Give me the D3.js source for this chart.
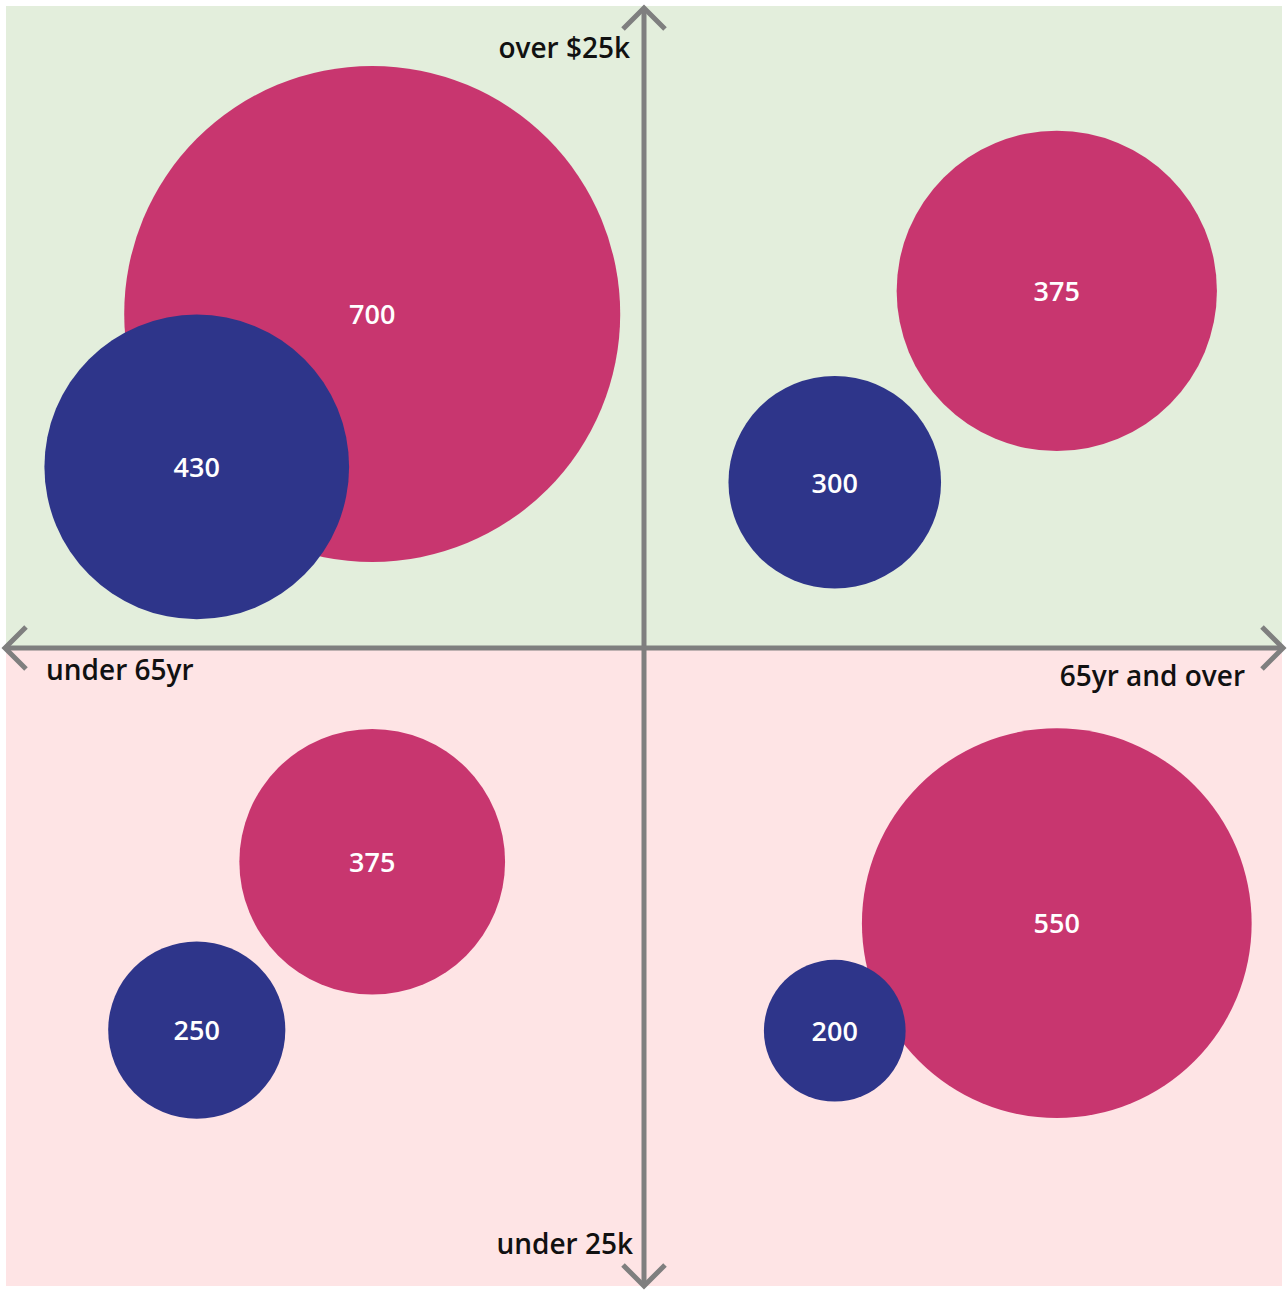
<!DOCTYPE html>
<html>
<head>
<meta charset="utf-8">
<script src="https://cdn.jsdelivr.net/npm/d3@7"></script>
<style>
  html, body { margin: 0; padding: 0; background: #ffffff; }
  svg { display: block; }
  text { font-family: "Open Sans", "Lato", sans-serif; }
</style>
</head>
<body>
<svg id="chart" width="1287" height="1290"></svg>
<script>
// ---- Data ----
const bubbleLabels = ["700", "430", "375", "300", "375", "250", "550", "200"];
const bubbleValues = [700, 430, 375, 300, 375, 250, 550, 200];
// drawn bubble size (the upper-right 375 bubble is drawn larger than its label)
const bubbleSizes  = [700, 430, 452, 300, 375, 250, 550, 200];
const bubbleGroups = ["pink", "blue", "pink", "blue", "pink", "blue", "pink", "blue"];
// positions in axis units (-100..100): x = age, y = income
const bubbleX = [-42.6, -70.1, 64.7, 29.9, -42.6, -70.1, 64.7, 29.9];
const bubbleY = [52.2, 28.3, 55.8, 25.9, -33.4, -59.7, -43.0, -59.8];
const axisLabels = ["over $25k", "under 65yr", "65yr and over", "under 25k"];
const quadrantNames = ["upper", "lower"];

(function () {
// ---- Scales ----
const svg = d3.select("#chart");
const x = d3.scaleLinear().domain([-100, 100]).range([6, 1282]);
const y = d3.scaleLinear().domain([-100, 100]).range([1288, 8]);
const r = d3.scaleLinear().domain([0, 700]).range([0, 248]);
const color = d3.scaleOrdinal().domain(["pink", "blue"]).range(["#C8366F", "#2E358A"]);
const bg = d3.scaleOrdinal().domain(quadrantNames).range(["#E3EEDC", "#FEE4E5"]);

// ---- Background halves ----
svg.append("rect").attr("x", x(-100)).attr("y", y(100) - 2)
  .attr("width", x(100) - x(-100)).attr("height", y(0) - y(100) + 2)
  .attr("fill", bg("upper"));
svg.append("rect").attr("x", x(-100)).attr("y", y(0))
  .attr("width", x(100) - x(-100)).attr("height", y(-100) - y(0) - 2)
  .attr("fill", bg("lower"));

// ---- Bubbles ----
const data = bubbleLabels.map((l, i) => ({
  label: l, value: bubbleValues[i], size: bubbleSizes[i], group: bubbleGroups[i],
  cx: bubbleX[i], cy: bubbleY[i]
}));

const g = svg.append("g");
g.selectAll("circle").data(data).enter().append("circle")
  .attr("cx", d => x(d.cx)).attr("cy", d => y(d.cy))
  .attr("r", d => r(d.size))
  .attr("fill", d => color(d.group));

g.selectAll("text.val").data(data).enter().append("text")
  .attr("class", "val")
  .attr("x", d => x(d.cx)).attr("y", d => y(d.cy))
  .attr("dy", "0.38em")
  .attr("text-anchor", "middle")
  .attr("fill", "#ffffff")
  .attr("font-size", 27)
  .attr("font-weight", 600)
  .text(d => d.label);

// ---- Axes with arrowheads ----
const axisColor = "#7F7F7F";
const ax = svg.append("g").attr("stroke", axisColor).attr("stroke-width", 5)
  .attr("fill", "none").attr("stroke-linecap", "butt");
const x0 = x(0), y0 = y(0);
const yTop = 8, yBot = 1286, xLeft = 5, xRight = 1283, a = 21;
ax.append("line").attr("x1", x0).attr("x2", x0).attr("y1", yTop + 2).attr("y2", yBot - 2);
ax.append("line").attr("x1", xLeft + 2).attr("x2", xRight - 2).attr("y1", y0).attr("y2", y0);
const arrows = [
  [[x0 - a, yTop + a], [x0, yTop], [x0 + a, yTop + a]],
  [[x0 - a, yBot - a], [x0, yBot], [x0 + a, yBot - a]],
  [[xLeft + a, y0 - a], [xLeft, y0], [xLeft + a, y0 + a]],
  [[xRight - a, y0 - a], [xRight, y0], [xRight - a, y0 + a]]
];
ax.selectAll("path.arrow").data(arrows).enter().append("path")
  .attr("class", "arrow")
  .attr("stroke-linejoin", "miter")
  .attr("d", d => d3.line()(d));

// ---- Axis labels ----
const labelPos = [
  {x: 630, y: 58, anchor: "end"},
  {x: 46, y: 680, anchor: "start"},
  {x: 1245, y: 686, anchor: "end"},
  {x: 633, y: 1254, anchor: "end"}
];
svg.append("g").selectAll("text").data(axisLabels).enter().append("text")
  .attr("x", (d, i) => labelPos[i].x).attr("y", (d, i) => labelPos[i].y)
  .attr("text-anchor", (d, i) => labelPos[i].anchor)
  .attr("fill", "#111111")
  .attr("font-size", 28)
  .attr("font-weight", 600)
  .text(d => d);
})();
</script>
</body>
</html>
